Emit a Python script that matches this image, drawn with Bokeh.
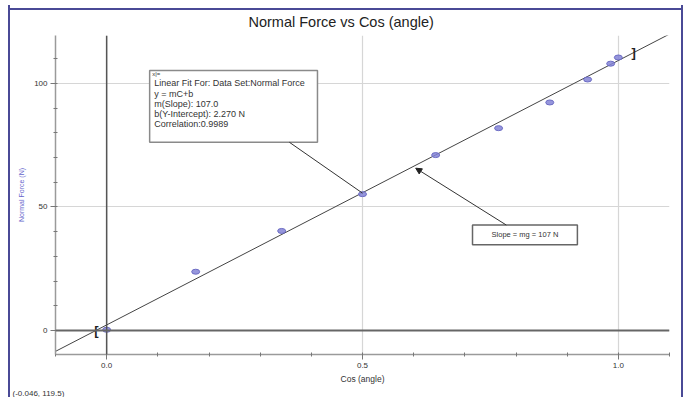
from bokeh.plotting import figure
from bokeh.models import (Range1d, SingleIntervalTicker, FixedTicker, Span, Arrow,
                          NormalHead, Title, PrintfTickFormatter)
from bokeh.core.properties import value
from bokeh.embed import file_html
from bokeh.resources import INLINE

# ---- data ----
cos_angle = [0.0, 0.174, 0.342, 0.5, 0.643, 0.766, 0.866, 0.940, 0.985, 1.0]
normal_force = [0.3, 23.8, 40.3, 55.2, 71.0, 81.9, 92.3, 101.6, 108.0, 110.5]
fit_slope = 107.0
fit_intercept = 2.270
fit_range = [-0.02, 1.03]
fit_labels = ["Linear Fit For:  Data Set:Normal Force",
              "y = mC+b",
              "m(Slope): 107.0",
              "b(Y-Intercept): 2.270 N",
              "Correlation:0.9989"]
slope_label = "Slope = mg = 107 N"
cursor_label = "(-0.046, 119.5)"
x_ticks_major = [0.0, 0.5, 1.0]
y_ticks_major = [0, 50, 100]

FONT = "Liberation Sans"
FRAME_BLUE = "#4a4a96"

x_lo, x_hi = -0.1, 1.1
y_lo, y_hi = -9.7, 119.4

p = figure(width=671, height=392, x_range=Range1d(x_lo, x_hi), y_range=Range1d(y_lo, y_hi),
           output_backend="svg", toolbar_location=None,
           min_border_left=45, min_border_right=12, min_border_top=30, min_border_bottom=42,
           x_axis_label="Cos (angle)", y_axis_label="Normal Force (N)",
           background_fill_color="white", border_fill_color=None)
p.outline_line_color = None
p.styles = {"margin-left": "10px", "margin-top": "5px",
            "background": f"linear-gradient({FRAME_BLUE}, {FRAME_BLUE}) 0 3px / 100% 2px no-repeat, white",
            "box-shadow": f"-2px 0 0 0 {FRAME_BLUE}, 2px 0 0 0 {FRAME_BLUE}"}

# title
p.title.text = "Normal Force vs Cos (angle)"
p.title.text_font = FONT
p.title.text_font_size = "14.5px"
p.title.text_font_style = "normal"
p.title.text_color = "#222222"
p.title.align = "left"
p.title.offset = 193
p.title.standoff = 12

# axes
p.xaxis.ticker = SingleIntervalTicker(interval=0.5, num_minor_ticks=5)
p.yaxis.ticker = SingleIntervalTicker(interval=50, num_minor_ticks=5)
p.xaxis.formatter = PrintfTickFormatter(format="%.1f")
p.yaxis.formatter = PrintfTickFormatter(format="%d")
for ax in (p.xaxis, p.yaxis):
    ax.axis_line_color = "#9a9a9a"
    ax.axis_line_width = 1.5
    ax.major_tick_line_color = "#777777"
    ax.minor_tick_line_color = "#777777"
    ax.major_tick_in = 0
    ax.major_tick_out = 5
    ax.minor_tick_in = 2
    ax.minor_tick_out = 2
    ax.major_label_text_font = FONT
    ax.major_label_text_font_size = "8px"
    ax.major_label_text_color = "#333333"
    ax.major_label_standoff = 3
    ax.axis_label_text_font = FONT
    ax.axis_label_text_font_style = "normal"
p.xaxis.axis_label_text_font_size = "8.5px"
p.xaxis.axis_label_text_color = "#333333"
p.xaxis.axis_label_standoff = 3
p.yaxis.axis_label_text_font_size = "7px"
p.yaxis.axis_label_text_color = "#6666cc"
p.yaxis.axis_label_standoff = 6

# grid
p.xgrid.ticker = FixedTicker(ticks=x_ticks_major)
p.ygrid.ticker = FixedTicker(ticks=y_ticks_major)
p.xgrid.grid_line_color = "#d6d6d6"
p.ygrid.grid_line_color = "#d6d6d6"
p.xgrid.grid_line_width = 1.2
p.ygrid.grid_line_width = 1.2

p.add_layout(Span(location=0, dimension="height", line_color="#555555", line_width=1.5))
p.add_layout(Span(location=0, dimension="width", line_color="#666666", line_width=2))

# fit line across the whole plot
fx = [x_lo, x_hi]
fy = [fit_slope * v + fit_intercept for v in fx]
p.line(fx, fy, line_color="#444444", line_width=1)

# fit range brackets
p.text(x=fit_range, y=[fit_slope * v + fit_intercept for v in fit_range], text=["[", "]"],
       text_font=value(FONT), text_font_size="13px", text_font_style="bold",
       text_color="#222222", text_align="center", text_baseline="middle")

# data points
p.ellipse(x=cos_angle, y=normal_force, width=8, height=5,
          width_units="screen", height_units="screen",
          fill_color="#8484d6", line_color="#6c6cc4", fill_alpha=0.85)

# fit info box
bx0, bx1, by0, by1 = 0.084, 0.412, 76.2, 105.2
p.quad(left=[bx0], right=[bx1], bottom=[by0], top=[by1], fill_color="white",
       line_color="#8a8a8a", line_width=1.5)
p.text(x=[bx0 + 0.005], y=[by1 - 1.4], text=["x|="], text_font=value(FONT),
       text_font_size="6px", text_color="#333333", text_baseline="middle")
p.text(x=[bx0 + 0.009] * len(fit_labels),
       y=[by1 - 5.2 - 4.1 * i for i in range(len(fit_labels))],
       text=fit_labels, text_font=value(FONT), text_font_size="9px",
       text_color="#333333", text_baseline="middle")
p.segment(x0=[0.357], y0=[by0], x1=[0.5], y1=[55.6], line_color="#333333", line_width=1)

# slope box
sx0, sx1, sy0, sy1 = 0.715, 0.92, 34.7, 42.7
p.quad(left=[sx0], right=[sx1], bottom=[sy0], top=[sy1], fill_color="white",
       line_color="#666666", line_width=1.5)
p.text(x=[(sx0 + sx1) / 2], y=[(sy0 + sy1) / 2], text=[slope_label], text_font=value(FONT),
       text_font_size="7.5px", text_color="#333333", text_align="center",
       text_baseline="middle")
p.add_layout(Arrow(x_start=0.781, y_start=sy1, x_end=0.604, y_end=65.7,
                   end=NormalHead(size=6, fill_color="#222222", line_color="#222222"),
                   line_color="#333333", line_width=1))

# cursor readout
p.add_layout(Title(text=cursor_label, align="left", text_font=FONT, text_font_size="8px",
                   text_font_style="normal", text_color="#333333", offset=-43, standoff=0),
             "below")

open("out.html", "w").write(file_html(p, INLINE))
